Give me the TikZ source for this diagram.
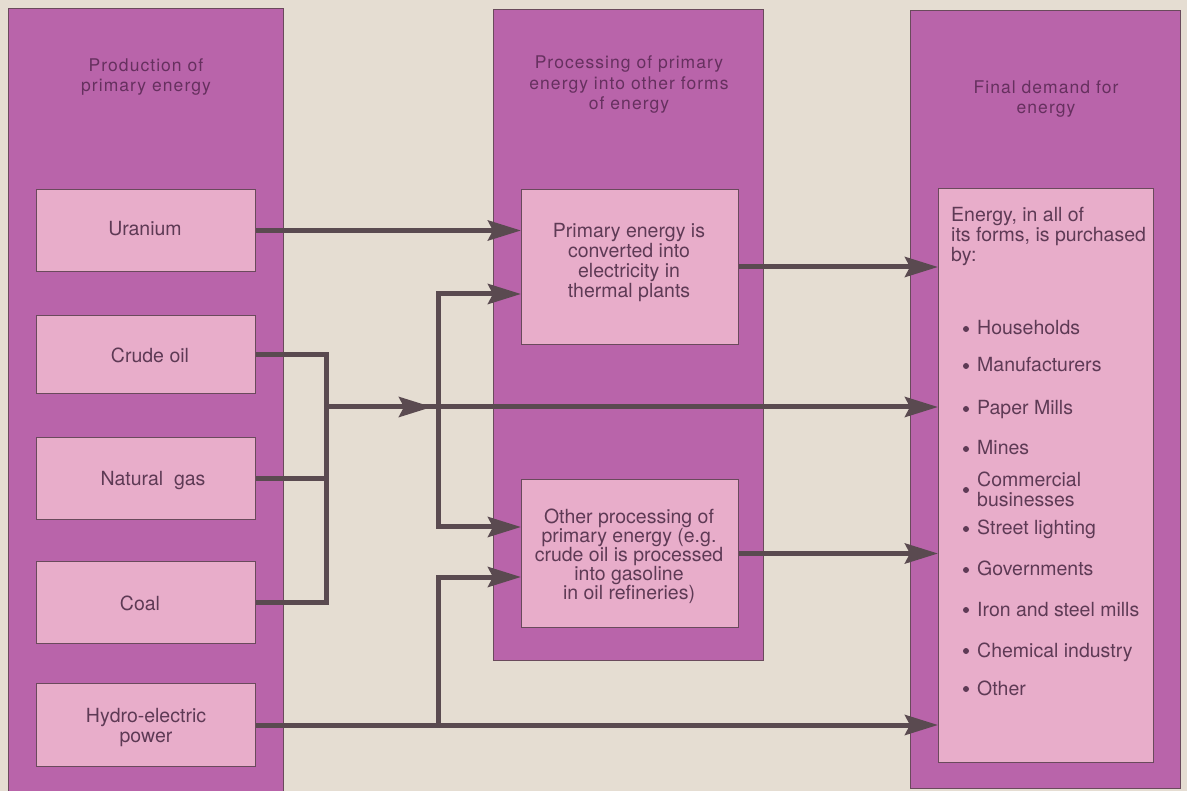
\documentclass[tikz,border=0pt]{standalone}
\usepackage{fontspec}
\setmainfont{TeX Gyre Heros}
\newfontfamily\titlefont[LetterSpace=6]{TeX Gyre Heros}
\usetikzlibrary{arrows.meta}
\definecolor{bg}{HTML}{E5DDD2}
\definecolor{colpurple}{HTML}{B964AA}
\definecolor{boxpink}{HTML}{E8ADCA}
\definecolor{edgec}{HTML}{6A4A5C}
\definecolor{linec}{HTML}{5A4A50}
\definecolor{txtc}{HTML}{5E3A55}
\definecolor{ttlc}{HTML}{66305F}
\begin{document}
\begin{tikzpicture}[x=1pt,y=-1pt,
  colbox/.style={draw=edgec, line width=1pt, fill=colpurple, anchor=north west, inner sep=0pt},
  inbox/.style={draw=edgec, line width=1pt, fill=boxpink, anchor=north west, inner sep=0pt},
  ttltext/.style={text=ttlc, font=\titlefont\fontsize{17.5}{20.5}\selectfont, align=center, inner sep=0pt},
  bodytext/.style={text=txtc, font=\fontsize{19.5}{20}\selectfont, align=center, inner sep=0pt},
  itemtext/.style={text=txtc, font=\fontsize{19.5}{20}\selectfont, align=left, inner sep=0pt, anchor=base west},
  dotc/.style={circle, fill=txtc, minimum size=6pt, inner sep=0pt},
  conn/.style={draw=linec, line width=5pt},
  arr/.style={conn, -{Stealth[length=33pt,width=20pt,inset=5pt]}},
]
\fill[bg] (0,0) rectangle (1187,791);
\useasboundingbox (0,0) rectangle (1187,791);

% columns
\node[colbox, minimum width=275pt, minimum height=790pt] (L) at (8,8) {};
\node[colbox, minimum width=270pt, minimum height=651pt] (M) at (493,9) {};
\node[colbox, minimum width=270pt, minimum height=778pt] (R) at (910,10) {};

% titles
\node[ttltext] (Lt) at (146,77) {Production of\\primary energy};
\node[ttltext] (Mt) at (629,85) {Processing of primary\\energy into other forms\\of energy};
\node[ttltext] (Rt) at (1046,99) {Final demand for\\energy};

% inner boxes
\node[inbox, minimum width=219pt, minimum height=82pt] (U) at (36,189) {};
\node[inbox, minimum width=219pt, minimum height=78pt] (C) at (36,315) {};
\node[inbox, minimum width=219pt, minimum height=82pt] (G) at (36,437) {};
\node[inbox, minimum width=219pt, minimum height=82pt] (K) at (36,561) {};
\node[inbox, minimum width=219pt, minimum height=83pt] (H) at (36,683) {};
\node[inbox, minimum width=217pt, minimum height=155pt] (P) at (521,189) {};
\node[inbox, minimum width=217pt, minimum height=148pt] (O) at (521,479) {};
\node[inbox, minimum width=215pt, minimum height=574pt] (F) at (938,188) {};

% box texts
\node[bodytext] (Ut) at (145,229) {Uranium};
\node[bodytext] (Ct) at (150,355) {Crude oil};
\node[bodytext] (Gt) at (153,481) {Natural\ \ gas};
\node[bodytext] (Kt) at (140,603) {Coal};
\node[bodytext] (Ht) at (146,728) {Hydro-electric\\power};
\node[bodytext] (Pt) at (629,263) {Primary energy is\\converted into\\electricity in\\thermal plants};
\node[bodytext, font=\fontsize{19.5}{19}\selectfont] (Ot) at (629,556) {Other processing of\\primary energy (e.g.\\crude oil is processed\\into gasoline\\in oil refineries)};
\node[itemtext, anchor=north west] (Ft) at (951,207) {Energy, in all of\\its forms, is purchased\\by:};

% list
\node[itemtext] (i1) at (977,335) {Households};
\node[itemtext] (i2) at (977,372) {Manufacturers};
\node[itemtext] (i3) at (977,415) {Paper Mills};
\node[itemtext] (i4) at (977,455) {Mines};
\node[itemtext] (i5) at (977,487) {Commercial};
\node[itemtext] (i5b) at (977,507) {businesses};
\node[itemtext] (i6) at (977,535) {Street lighting};
\node[itemtext] (i7) at (977,576) {Governments};
\node[itemtext] (i8) at (977,616) {Iron and steel mills};
\node[itemtext] (i9) at (977,657) {Chemical industry};
\node[itemtext] (i10) at (977,695) {Other};
\node[dotc] (d1) at (966,329) {};
\node[dotc] (d2) at (966,366) {};
\node[dotc] (d3) at (966,409) {};
\node[dotc] (d4) at (966,449) {};
\node[dotc] (d5) at (966,490) {};
\node[dotc] (d6) at (966,529) {};
\node[dotc] (d7) at (966,570) {};
\node[dotc] (d8) at (966,610) {};
\node[dotc] (d9) at (966,651) {};
\node[dotc] (d10) at (966,689) {};

% junction coordinates
\coordinate (jx) at (326,407);
\coordinate (mt) at (432,407);
\coordinate (bx) at (438,407);
\coordinate (bt) at (438,294);
\coordinate (bb) at (438,527);
\coordinate (ht) at (438,577);

% connectors
\draw[arr] (U.east) -- (U.east -| P.west);
\draw[conn] (C.east) -- (C.east -| jx) -- (K.east -| jx) -- (K.east);
\draw[conn] (G.east) -- (G.east -| jx);
\draw[arr] (jx) -- (jx -| F.west);
\draw[arr] (jx) -- (mt);
\draw[arr] (bx) -- (bt) -- (bt -| P.west);
\draw[arr] (bx) -- (bb) -- (bb -| O.west);
\draw[arr] (H.east) -- (H.east -| F.west);
\draw[arr] (H.east -| bx) -- (ht) -- (ht -| O.west);
\draw[arr] (P.east) -- (P.east -| F.west);
\draw[arr] (O.east) -- (O.east -| F.west);
\end{tikzpicture}
\end{document}
